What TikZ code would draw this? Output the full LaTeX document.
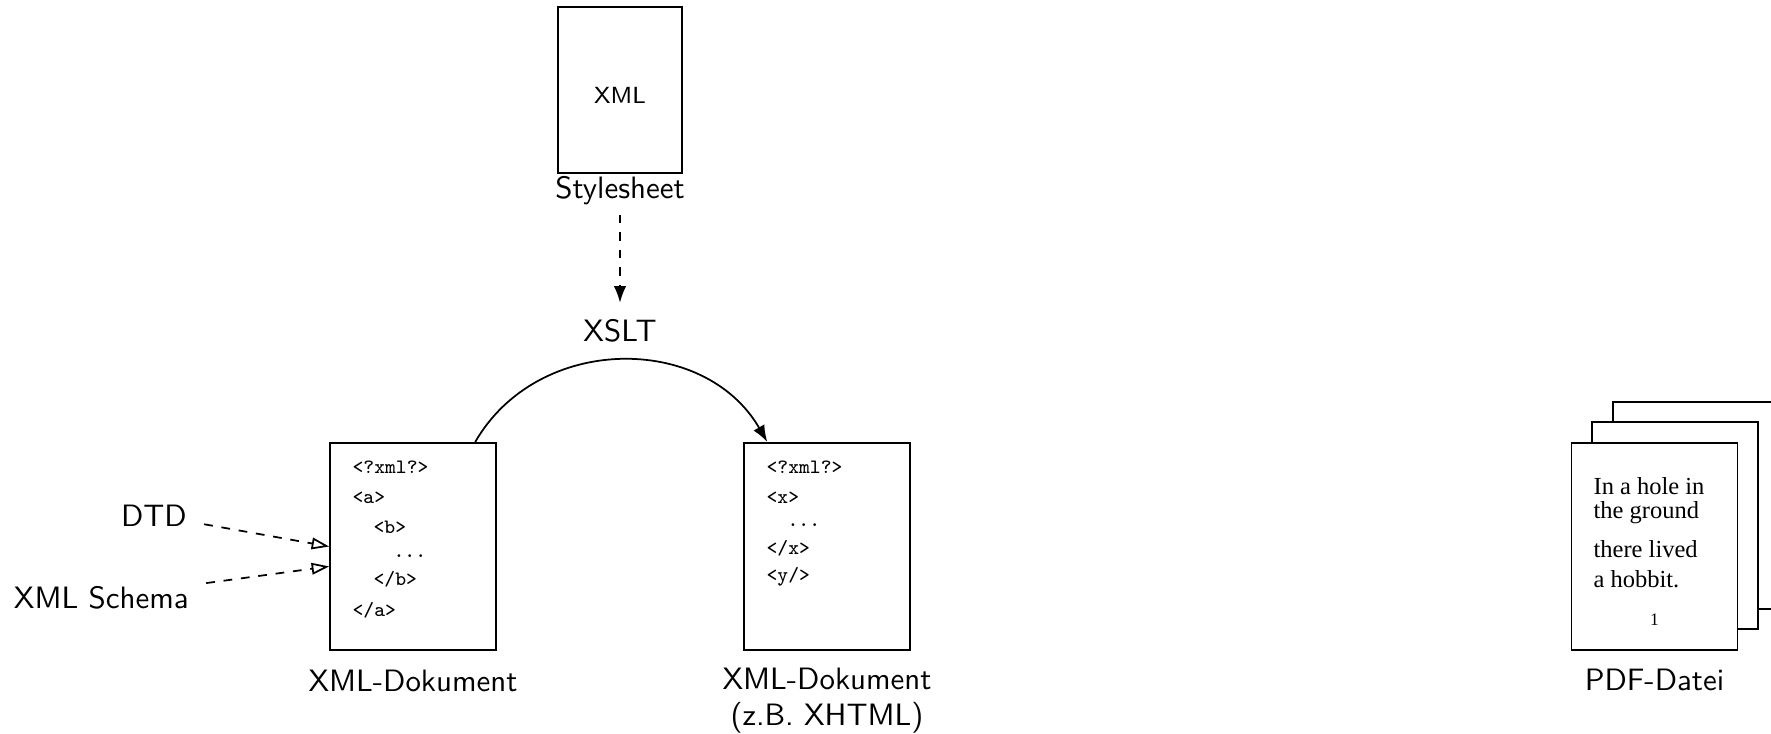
\documentclass[tikz,border=0pt]{standalone}
\usepackage{fontspec}
\newfontfamily\pageserif{Liberation Serif}
\usetikzlibrary{arrows.meta}
\begin{document}
\begin{tikzpicture}[
  x=0.012048cm, y=-0.012048cm,
  page/.style={draw, semithick, fill=white, minimum width=2cm, minimum height=2.5cm, inner sep=0pt},
  sheet/.style={draw, semithick, minimum width=1.5cm, minimum height=2cm, inner sep=0pt},
  code/.style={anchor=base west, inner sep=0pt, font=\ttfamily\scriptsize},
  prose/.style={anchor=base west, inner sep=0pt, font=\pageserif\fontsize{8.4}{10}\selectfont},
  caption/.style={font=\sffamily\fontsize{10.6}{12.4}\selectfont},
  flow/.style={semithick, -{Latex}},
  check/.style={semithick, dashed, -{Triangle[open, length=6pt, width=4pt]}}
]
\clip (0,0) rectangle (1771,733);

% stylesheet and transformation
\node[sheet] (xsl) at (620,90) {};
\node[font=\sffamily\footnotesize, anchor=base] (xsltag) at (620,103) {XML};
\node[caption, anchor=base] (sslabel) at (620,198) {Stylesheet};
\node[caption, anchor=base] (xslt) at (620,341) {XSLT};
\draw[flow, dashed, shorten >=2pt] (sslabel) -- (xslt);

% source document
\node[page] (doc1) at (413,546.5) {};
\node[code] (d1a) at (352,473) {<?xml?>};
\node[code] (d1b) at (352,503) {<a>};
\node[code] (d1c) at (373,533) {<b>};
\node[code] (d1d) at (393,557) {...};
\node[code] (d1e) at (373,585) {</b>};
\node[code] (d1f) at (352,616) {</a>};
\node[caption, anchor=base] (doc1label) at (413,691) {XML-Dokument};

% result document
\node[page] (doc2) at (827,546.5) {};
\node[code] (d2a) at (766,473) {<?xml?>};
\node[code] (d2b) at (766,503) {<x>};
\node[code] (d2c) at (787,526) {...};
\node[code] (d2d) at (766,554) {</x>};
\node[code] (d2e) at (766,581) {<y/>};
\node[caption, anchor=north, align=center] (doc2label) at (827,658) {XML-Dokument\\(z.B. XHTML)};

% transformation arc
\coordinate (arcfrom) at ([xshift=0.75cm]doc1.north);
\coordinate (arcto) at ([xshift=-0.72cm]doc2.north);
\draw[flow] (arcfrom) to[out=60, in=120, looseness=1.1] (arcto);

% validation
\node[caption, anchor=base east] (dtd) at (197,526) {DTD};
\node[caption, anchor=base east] (schema) at (199,608) {XML Schema};
\coordinate (schemain) at ([yshift=-0.24cm]doc1.west);
\draw[check, shorten <=2.5pt] (dtd) -- (doc1.west);
\draw[check, shorten <=2.5pt] (schema) -- (schemain);

% printed pages
\node[page] (pdf3) at (1696,505.5) {};
\node[page] (pdf2) at (1675,525.5) {};
\node[page] (pdf1) at (1654.5,546.5) {};
\node[prose] (p1) at (1593,494) {In a hole in};
\node[prose] (p2) at (1593,518) {the ground};
\node[prose] (p3) at (1593,557) {there lived};
\node[prose] (p4) at (1593,587) {a hobbit.};
\node[anchor=base, inner sep=0pt, font=\pageserif\fontsize{6}{7}\selectfont] (pnum) at (1654.5,625) {1};
\node[caption, anchor=base] (pdflabel) at (1654.5,690) {PDF-Datei};
\end{tikzpicture}
\end{document}
